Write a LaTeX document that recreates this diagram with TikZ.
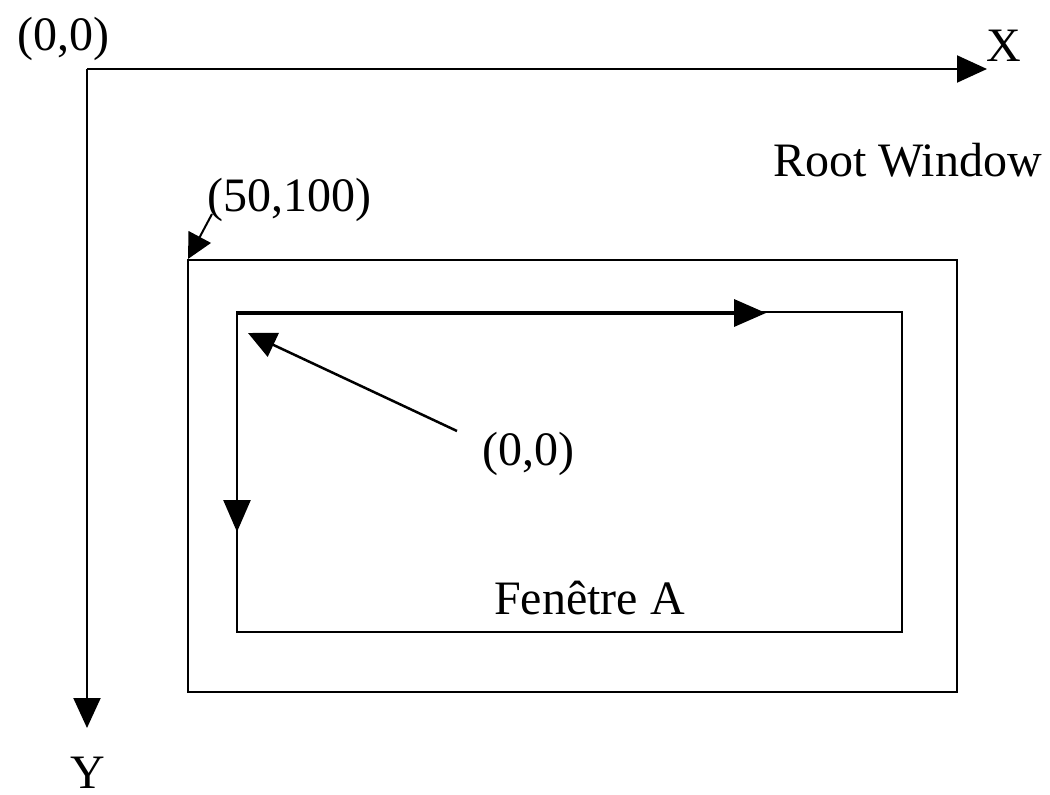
\documentclass[tikz,border=0pt]{standalone}
\usepackage{fontspec}
\setmainfont{Liberation Serif}
\usetikzlibrary{arrows.meta}
\begin{document}
\begin{tikzpicture}[x=1pt,y=-1pt,
  lbl/.style={inner sep=0pt,anchor=base west,font=\fontsize{48}{57}\selectfont},
  axis/.style={line width=2pt,-{Triangle[length=30pt,width=27pt]}},
  frame/.style={draw,line width=2pt},
  pointer/.style={line width=2.5pt,-{Triangle[length=28pt,width=26pt]}}]
\useasboundingbox (0,0) rectangle (1050,795);
% screen axes
\coordinate (O) at (87,69);
\coordinate (Xend) at (987,69);
\coordinate (Yend) at (87,728);
\draw[axis] (O) -- (Xend);
\draw[axis] (O) -- (Yend);
\node[lbl] (o0) at (17,50) {(0,0)};
\node[lbl] (xl) at (986,61) {X};
\node[lbl] (yl) at (70,788) {Y};
\node[lbl] (root) at (773,176) {Root Window};
% outer window frame and inner window
\draw[frame] (188,260) rectangle (957,692);
\draw[frame,line width=2.5pt] (237,312) rectangle (902,632);
\coordinate (A0) at (237,313);
\coordinate (Ax) at (766,313);
\coordinate (Ay) at (237,532);
\draw[line width=3.5pt,-{Triangle[length=32pt,width=27pt]}] (A0) -- (Ax);
\draw[line width=2.5pt,-{Triangle[length=32pt,width=27pt]}] (A0) -- (Ay);
\node[lbl] (a0) at (482,465) {(0,0)};
\node[lbl] (pos) at (207,211) {(50,100)};
\node[lbl] (fen) at (494,614) {Fenêtre A};
% pointers from labels to corners
\coordinate (p1) at (457,431);
\coordinate (t1) at (248,333);
\draw[pointer] (p1) -- (t1);
\coordinate (p2) at (212,214);
\coordinate (t2) at (188,259);
\draw[line width=2pt,-{Triangle[length=25pt,width=25pt]}] (p2) -- (t2);
\end{tikzpicture}
\end{document}
